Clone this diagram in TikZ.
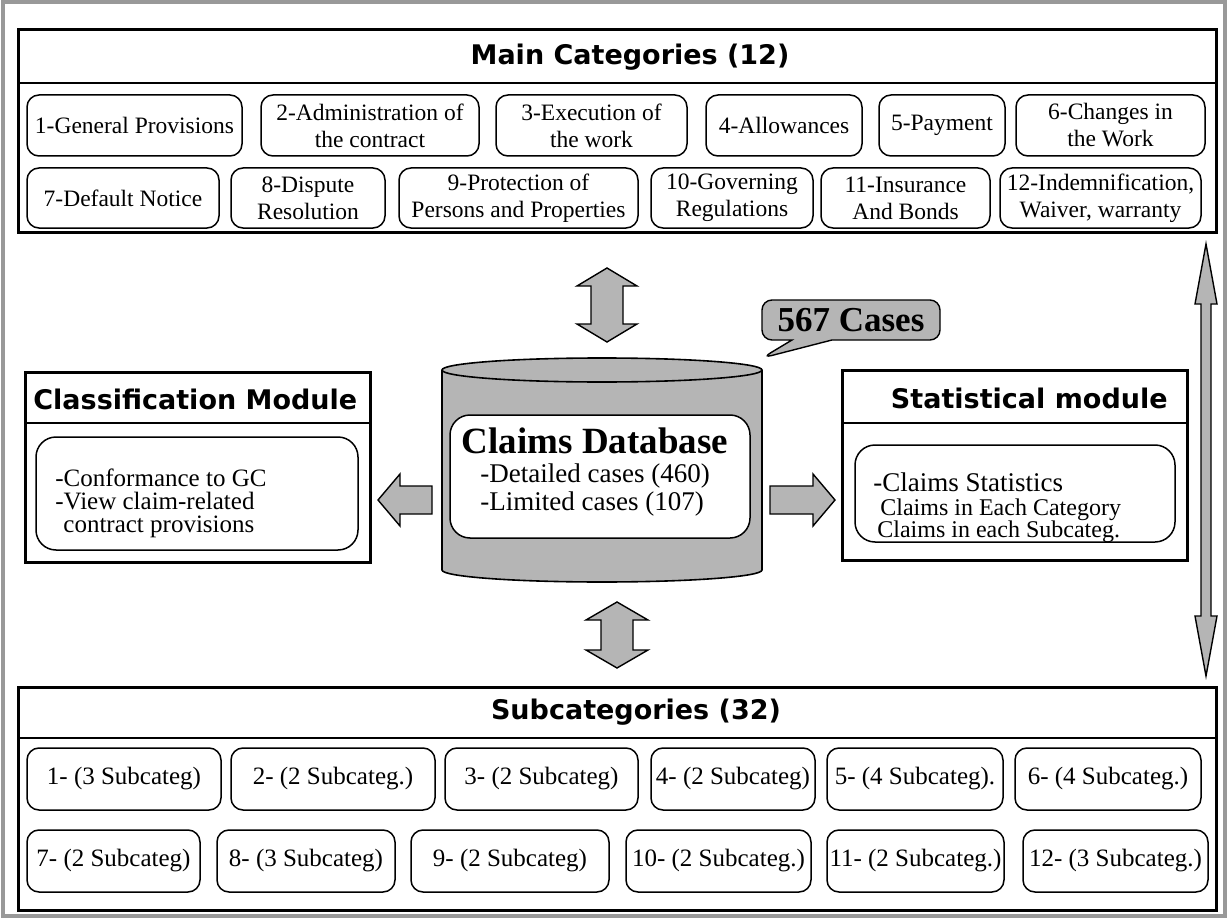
\documentclass[tikz,border=0pt]{standalone}
\usepackage{fontspec}
\setmainfont{Liberation Serif}
\newfontfamily\headfont{DejaVu Sans}
\usetikzlibrary{calc,shapes.callouts}

\definecolor{shade}{gray}{0.71}
\definecolor{framegray}{gray}{0.6}

\newcommand\fsz[2]{\fontsize{#1}{#2}\selectfont}

% box given by its corners: style, name, x1, y1, x2, y2, text
\newcommand\boxnode[7]{%
  \pgfmathsetmacro\bw{(#5-#3)*0.5}%
  \pgfmathsetmacro\bh{(#6-#4)*0.5}%
  \node[#1, minimum width=\bw pt, minimum height=\bh pt] (#2) at ({(#3+#5)/2},{(#4+#6)/2}) {#7};}

% vertical two-headed block arrow: top end, bottom end, shaft half width, head half width, head length
\newcommand\vdblarrow[5]{%
  \draw[blockarrow] let \p1=(#1),\p2=(#2) in
    (\x1,\y1) -- (\x1+#4,\y1-#5) -- (\x1+#3,\y1-#5) -- (\x1+#3,\y2+#5) -- (\x1+#4,\y2+#5)
    -- (\x2,\y2) -- (\x1-#4,\y2+#5) -- (\x1-#3,\y2+#5) -- (\x1-#3,\y1-#5) -- (\x1-#4,\y1-#5) -- cycle;}

% horizontal block arrow: tail, tip, shaft half width, head half width, head length
\newcommand\hblkarrow[5]{%
  \draw[blockarrow] let \p1=(#1),\p2=(#2),\n1={sign(\x2-\x1)} in
    (\x1,\y1+#3) -- ({\x2-(\n1)*#5},\y1+#3) -- ({\x2-(\n1)*#5},\y1+#4) -- (\x2,\y2)
    -- ({\x2-(\n1)*#5},\y1-#4) -- ({\x2-(\n1)*#5},\y1-#3) -- (\x1,\y1-#3) -- cycle;}

\tikzset{
  panel/.style={draw, line width=1.5pt, inner sep=0pt, outer sep=0pt},
  heading/.style={font=\headfont\bfseries\fsz{13.5pt}{16pt}, inner sep=0pt},
  catbox/.style={draw, line width=0.75pt, rounded corners=6pt, align=center, inner sep=0pt,
                 font=\fsz{11.75pt}{13.5pt}},
  subbox/.style={catbox, font=\fsz{12.5pt}{14pt}},
  innerbox/.style={draw, line width=0.75pt, rounded corners=10pt, inner sep=0pt, fill=white},
  blockarrow/.style={draw, line width=0.7pt, fill=shade, line join=miter},
  sepline/.style={line width=0.9pt},
}

\begin{document}
\begin{tikzpicture}[x=0.5pt, y=-0.5pt]
\useasboundingbox (0,0) rectangle (1227,920);
\fill[white] (0,0) rectangle (1227,920);
\draw[framegray, line width=2pt] (2.5,2.5) rectangle (1224.5,916);

% ---------- main categories ----------
\boxnode{panel}{mainbox}{18}{30}{1216}{232}{}
\draw[sepline] (mainbox.west |- 0,83) -- (mainbox.east |- 0,83);
\node[heading] (maintitle) at (630,57) {Main Categories (12)};

\boxnode{catbox}{c1}{27}{95}{242}{156}{1-General Provisions}
\boxnode{catbox}{c2}{261}{95}{479}{156}{2-Administration of\\the contract}
\boxnode{catbox}{c3}{496}{95}{687}{156}{3-Execution of\\the work}
\boxnode{catbox}{c4}{706}{95}{862}{156}{4-Allowances}
\boxnode{catbox}{c5}{879}{95}{1005}{156}{5-Payment}
\boxnode{catbox}{c6}{1016}{95}{1205}{156}{6-Changes in\\the Work}
\boxnode{catbox}{c7}{27}{168}{219}{228}{7-Default Notice}
\boxnode{catbox}{c8}{231}{168}{385}{228}{8-Dispute\\Resolution}
\boxnode{catbox}{c9}{399}{168}{638}{228}{9-Protection of\\Persons and Properties}
\boxnode{catbox}{c10}{651}{168}{813}{228}{10-Governing\\Regulations}
\boxnode{catbox}{c11}{821}{168}{990}{228}{11-Insurance\\And Bonds}
\boxnode{catbox}{c12}{1000}{168}{1201}{228}{12-Indemnification,\\Waiver, warranty}

% ---------- subcategories ----------
\boxnode{panel}{subpanel}{18}{687}{1216}{910}{}
\draw[sepline] (subpanel.west |- 0,738) -- (subpanel.east |- 0,738);
\node[heading] (subtitle) at (636,712) {Subcategories (32)};

\boxnode{subbox}{s1}{27}{748}{221}{810}{1- (3 Subcateg)}
\boxnode{subbox}{s2}{231}{748}{435}{810}{2- (2 Subcateg.)}
\boxnode{subbox}{s3}{445}{748}{638}{810}{3- (2 Subcateg)}
\boxnode{subbox}{s4}{651}{748}{815}{810}{4- (2 Subcateg)}
\boxnode{subbox}{s5}{827}{748}{1003}{810}{5- (4 Subcateg).}
\boxnode{subbox}{s6}{1015}{748}{1201}{810}{6- (4 Subcateg.)}
\boxnode{subbox}{s7}{27}{830}{200}{892}{7- (2 Subcateg)}
\boxnode{subbox}{s8}{217}{830}{395}{892}{8- (3 Subcateg)}
\boxnode{subbox}{s9}{411}{830}{609}{892}{9- (2 Subcateg)}
\boxnode{subbox}{s10}{626}{830}{811}{892}{10- (2 Subcateg.)}
\boxnode{subbox}{s11}{827}{830}{1004}{892}{11- (2 Subcateg.)}
\boxnode{subbox}{s12}{1023}{830}{1208}{892}{12- (3 Subcateg.)}

% ---------- classification module ----------
\boxnode{panel}{clsbox}{25}{372}{370}{562}{}
\draw[sepline] (clsbox.west |- 0,423) -- (clsbox.east |- 0,423);
\node[heading, anchor=west] (clstitle) at (33,399) {Classification Module};
\boxnode{innerbox}{clsinner}{36}{437}{358}{550}{}
\node[anchor=west, align=left, inner sep=0pt, font=\fsz{12.5pt}{11.5pt}] (clstext) at (55,503)
  {-Conformance to GC\\-View claim-related\\\hspace{4pt}contract provisions};

% ---------- statistical module ----------
\boxnode{panel}{statbox}{842}{370}{1187}{560}{}
\draw[sepline] (statbox.west |- 0,423) -- (statbox.east |- 0,423);
\node[heading, anchor=east] (stattitle) at (1168,398) {Statistical module};
\boxnode{innerbox}{statinner}{855}{445}{1175}{542}{}
\node[anchor=west, align=left, inner sep=0pt, font=\fsz{12pt}{11pt}] (stattext) at (873,508)
  {{\fsz{13.5pt}{11pt}-Claims Statistics}\\[1pt]
   \hspace{3.5pt}Claims in Each Category\\
   \hspace{2pt}Claims in each Subcateg.};

% ---------- claims database ----------
\coordinate (dbtl) at (442,370);
\coordinate (dbtr) at (762,370);
\coordinate (dbbl) at (442,570);
\draw[fill=shade, line width=0.8pt] (dbtl) -- (dbbl)
  arc[start angle=180, end angle=360, x radius=80pt, y radius=6pt]
  -- (dbtr) arc[start angle=0, end angle=180, x radius=80pt, y radius=6pt] -- cycle;
\draw[line width=0.8pt] (dbtl) arc[start angle=180, end angle=360, x radius=80pt, y radius=6pt];
\boxnode{innerbox}{dbpanel}{450}{415}{750}{538}{}
\node[inner sep=0pt, font=\bfseries\fsz{18.5pt}{20pt}] (dbtitle) at (595,441) {Claims Database};
\node[anchor=west, align=left, inner sep=0pt, font=\fsz{13.5pt}{14pt}] (dbitems) at (480,490)
  {-Detailed cases (460)\\-Limited cases (107)};

% ---------- case count callout ----------
\coordinate (casetip) at (762,358);
\node[rectangle callout, draw, fill=shade, line width=0.7pt, rounded corners=5pt,
      callout absolute pointer={(casetip)}, callout pointer width=20pt,
      minimum width=89pt, minimum height=20pt, inner sep=0pt,
      font=\bfseries\fsz{17.5pt}{18pt}] (cases) at (851,320) {567 Cases};

% ---------- block arrows ----------
\coordinate (ta1) at (607,268);  \coordinate (ta2) at (607,342);
\coordinate (ba1) at (617,602);  \coordinate (ba2) at (617,668);
\coordinate (la1) at (432,500);  \coordinate (la2) at (378,500);
\coordinate (ra1) at (770,500);  \coordinate (ra2) at (835,500);
\coordinate (va1) at (1206,244); \coordinate (va2) at (1206,676);
\vdblarrow{ta1}{ta2}{8pt}{15pt}{9pt}
\vdblarrow{ba1}{ba2}{8pt}{15.5pt}{9pt}
\hblkarrow{la1}{la2}{7pt}{13pt}{11pt}
\hblkarrow{ra1}{ra2}{7pt}{13pt}{11pt}
\vdblarrow{va1}{va2}{2.5pt}{5.5pt}{30pt}
\end{tikzpicture}
\end{document}
